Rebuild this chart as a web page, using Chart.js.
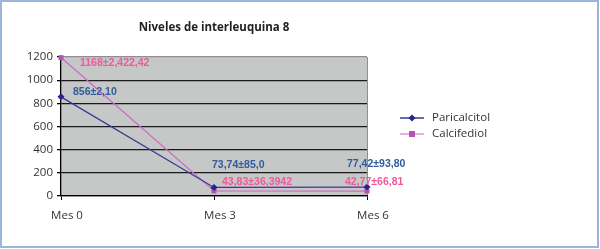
<!DOCTYPE html>
<html>
<head>
<meta charset="utf-8">
<script src="https://cdn.jsdelivr.net/npm/chart.js@4"></script>
<style>
  html, body { margin: 0; padding: 0; background: #fff; }
  #wrap { width: 600px; height: 249px; position: relative; }
</style>
</head>
<body>
<div id="wrap"><canvas id="chart" width="600" height="249"></canvas></div>
<script>
// datos
const meses = ["Mes 0", "Mes 3", "Mes 6"];
const paricalcitol = [856, 73.74, 77.42];
const calcifediol = [1195, 43.83, 42.77];
const etiquetasParicalcitol = ["856±2,10", "73,74±85,0", "77,42±93,80"];
const etiquetasCalcifediol = ["1168±2,422,42", "43,83±36,3942", "42,77±66,81"];
const ticksY = [0, 200, 400, 600, 800, 1000, 1200];
const titulo = "Niveles de interleuquina 8";

// desplazamiento de las etiquetas respecto al punto
const offsetsEtiquetas = [
    [[12, -5], [-2, -22], [-20, -23]],
    [[19, 6], [8, -9], [-22, -9]]
];

const AZUL = '#25258c';
const ROSA = '#cc6cc4';

const fondoPlugin = {
    id: 'fondo',
    beforeDraw(chart){
        const {ctx, chartArea: a} = chart;
        ctx.save();
        ctx.fillStyle = '#fff';
        ctx.fillRect(0, 0, chart.width, chart.height);
        ctx.fillStyle = '#c6c7c7';
        ctx.fillRect(a.left, a.top, a.right - a.left, a.bottom - a.top);
        ctx.restore();
    },
    afterDraw(chart){
        const {ctx, chartArea: a} = chart;
        ctx.save();
        // marco exterior
        ctx.strokeStyle = '#9bb6da';
        ctx.lineWidth = 2;
        ctx.strokeRect(1, 1, 597, 246);
        // titulo
        ctx.fillStyle = '#222';
        ctx.font = 'bold 11.5px "Open Sans", sans-serif';
        ctx.textAlign = 'center';
        ctx.textBaseline = 'middle';
        ctx.fillText(titulo, (a.left + a.right) / 2, 28);
        // leyenda
        const items = [
            {text: 'Paricalcitol', color: AZUL, line: '#3a3a96', style: 'rectRot', y: 118},
            {text: 'Calcifediol', color: '#b850b0', line: '#d79ad2', style: 'rect', y: 134}
        ];
        ctx.textAlign = 'left';
        ctx.font = '11.5px "Open Sans", sans-serif';
        items.forEach(it => {
            ctx.strokeStyle = it.line;
            ctx.lineWidth = 1.5;
            ctx.beginPath();
            ctx.moveTo(400, it.y);
            ctx.lineTo(424, it.y);
            ctx.stroke();
            ctx.fillStyle = it.color;
            if (it.style === 'rect') {
                ctx.fillRect(409, it.y - 3, 6, 6);
            } else {
                ctx.beginPath();
                ctx.moveTo(412, it.y - 3.5);
                ctx.lineTo(415.5, it.y);
                ctx.lineTo(412, it.y + 3.5);
                ctx.lineTo(408.5, it.y);
                ctx.closePath();
                ctx.fill();
            }
            ctx.fillStyle = '#333';
            ctx.fillText(it.text, 432, it.y);
        });
        ctx.restore();
    },
    afterDatasetsDraw(chart){
        const {ctx} = chart;
        const etiquetas = [etiquetasParicalcitol, etiquetasCalcifediol];
        const colores = ['#2f5c9c', '#f0589c'];
        ctx.save();
        ctx.font = 'bold 10.5px "Liberation Sans", Arial, sans-serif';
        ctx.textAlign = 'left';
        ctx.textBaseline = 'middle';
        chart.data.datasets.forEach((ds, di) => {
            const meta = chart.getDatasetMeta(di);
            meta.data.forEach((pt, i) => {
                const [dx, dy] = offsetsEtiquetas[di][i];
                ctx.fillStyle = colores[di];
                ctx.fillText(etiquetas[di][i], pt.x + dx, pt.y + dy);
            });
        });
        ctx.restore();
    }
};

new Chart(document.getElementById('chart'), {
    type: 'line',
    data: {
        labels: meses,
        datasets: [
            {
                label: 'Paricalcitol',
                data: paricalcitol,
                borderColor: '#3a3a96',
                backgroundColor: AZUL,
                borderWidth: 1.3,
                pointStyle: 'rectRot',
                pointRadius: 3.5,
                pointBorderWidth: 0,
                pointBackgroundColor: AZUL,
                tension: 0,
                clip: false
            },
            {
                label: 'Calcifediol',
                data: calcifediol,
                borderColor: ROSA,
                backgroundColor: '#b850b0',
                borderWidth: 1.3,
                pointStyle: 'rect',
                pointRadius: 3.5,
                pointBorderWidth: 0,
                pointBackgroundColor: '#b850b0',
                tension: 0,
                clip: false
            }
        ]
    },
    options: {
        responsive: false,
        animation: false,
        layout: { padding: { top: 57, right: 233, left: 0, bottom: 0 } },
        plugins: {
            legend: { display: false },
            title: { display: false },
            tooltip: { enabled: false }
        },
        scales: {
            x: {
                offset: false,
                afterFit(s){ s.height = 53; },
                grid: {
                    drawOnChartArea: true,
                    color: c => c.index === 2 ? '#8f8f8f' : 'rgba(0,0,0,0)',
                    tickColor: '#000',
                    tickLength: 4
                },
                border: { display: true, color: '#000', width: 1.3 },
                ticks: {
                    color: '#333',
                    font: { family: '"Open Sans", sans-serif', size: 11.5 },
                    padding: 9,
                    labelOffset: 6,
                    maxRotation: 0
                }
            },
            y: {
                min: 0,
                max: 1200,
                afterFit(s){ s.width = 61; },
                afterBuildTicks(s){ s.ticks = ticksY.map(v => ({value: v})); },
                grid: {
                    color: c => c.tick && c.tick.value === 1200 ? '#8f8f8f' : '#1a1a1a',
                    lineWidth: 1.3,
                    tickColor: '#000',
                    tickLength: 4
                },
                border: { display: true, color: '#000', width: 1.3 },
                ticks: {
                    color: '#333',
                    font: { family: '"Open Sans", sans-serif', size: 11.5 },
                    padding: 4,
                    callback: v => String(v)
                }
            }
        }
    },
    plugins: [fondoPlugin]
});
</script>
</body>
</html>
